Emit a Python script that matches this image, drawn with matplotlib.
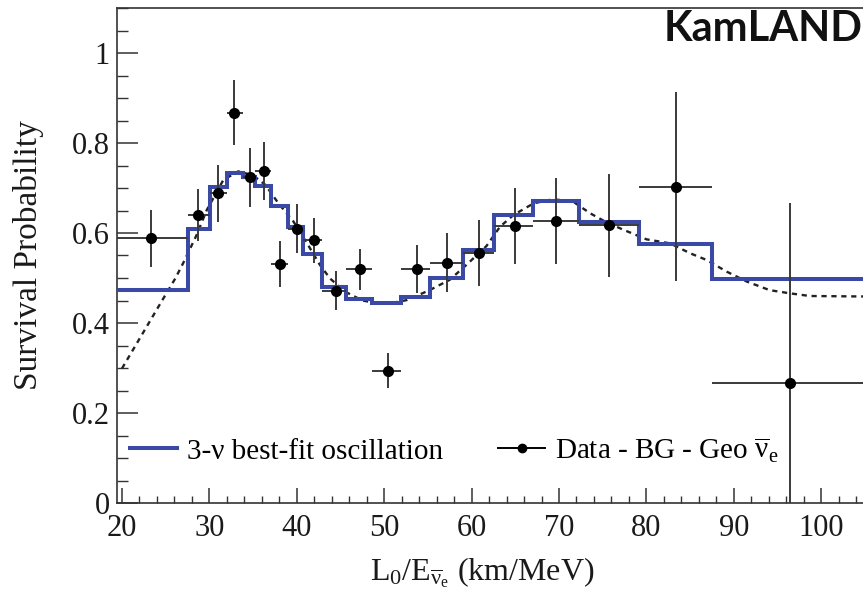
import matplotlib
matplotlib.use('Agg')
import matplotlib.pyplot as plt
from matplotlib.lines import Line2D
from matplotlib.ticker import MultipleLocator, FixedLocator, FuncFormatter

plt.rcParams['font.family'] = ['Liberation Serif', 'DejaVu Serif']
plt.rcParams['mathtext.fontset'] = 'custom'
plt.rcParams['mathtext.rm'] = 'Liberation Serif'
plt.rcParams['mathtext.it'] = 'Liberation Serif:italic'

# ---- data ----
data_x = [23.3, 28.66, 31.0, 32.85, 34.6, 36.2, 38.1, 40.0, 42.0, 44.45,
          47.2, 50.4, 53.7, 57.2, 60.9, 65.0, 69.7, 75.7, 83.4, 96.4]
data_y = [0.588, 0.640, 0.688, 0.867, 0.724, 0.738, 0.531, 0.610, 0.584, 0.472,
          0.519, 0.294, 0.520, 0.534, 0.556, 0.616, 0.627, 0.617, 0.703, 0.267]
data_yerr = [0.063, 0.058, 0.063, 0.072, 0.066, 0.064, 0.051, 0.055, 0.050, 0.043,
             0.046, 0.039, 0.053, 0.065, 0.074, 0.084, 0.095, 0.115, 0.210, 0.400]
bin_edges = [19.43, 27.5, 30.05, 32.05, 33.9, 35.2, 37.1, 39.0, 40.75, 42.85,
             45.6, 48.65, 51.9, 55.25, 59.0, 62.6, 67.05, 72.3, 79.2, 87.55, 112.0]
bestfit = [0.473, 0.609, 0.702, 0.733, 0.725, 0.704, 0.659, 0.614, 0.553, 0.481,
           0.453, 0.444, 0.457, 0.499, 0.562, 0.641, 0.672, 0.625, 0.576, 0.497]
curve_x = [20.0, 24.5, 26.1, 27.0, 28.55, 29.7, 31.6, 33.3, 35.0, 36.4, 37.9, 39.6,
           41.3, 42.65, 43.8, 45.5, 47.5, 49.5, 51.0, 52.6, 55.2, 57.5, 59.4, 61.7,
           63.25, 64.8, 67.1, 69.3, 71.6, 73.55, 75.5, 77.4, 80.0, 82.7, 85.0, 86.9,
           89.2, 91.5, 94.1, 96.4, 98.7, 104.4, 112.0]
curve_y = [0.299, 0.447, 0.499, 0.533, 0.596, 0.651, 0.718, 0.737, 0.728, 0.707, 0.666, 0.626,
           0.573, 0.529, 0.499, 0.470, 0.450, 0.443, 0.445, 0.451, 0.473, 0.496, 0.529, 0.571,
           0.614, 0.640, 0.666, 0.675, 0.670, 0.644, 0.623, 0.607, 0.586, 0.577, 0.555, 0.540,
           0.514, 0.492, 0.473, 0.466, 0.460, 0.459, 0.459]
x_major_ticks = [20, 30, 40, 50, 60, 70, 80, 90, 100]

BLUE = '#3a48a6'
NUBAR = r'$\overline{\mathrm{ν}}_{\mathrm{e}}$'

fig = plt.figure(figsize=(8.63, 6.04), dpi=100)
ax = fig.add_axes([117/863, 1-503/604, 791.6/863, 495/604])
ax.set_xlim(19.43, 110.0)
ax.set_ylim(0, 1.1)

ax.plot(curve_x, curve_y, color='#222222', lw=1.7, ls=(0, (2.2, 2.0)), zorder=2)
ax.stairs(bestfit, bin_edges, baseline=None, color=BLUE, lw=2.9, zorder=3)

xlo = [x - bin_edges[i] for i, x in enumerate(data_x)]
xhi = [bin_edges[i + 1] - x for i, x in enumerate(data_x)]
ax.errorbar(data_x, data_y, yerr=data_yerr, xerr=[xlo, xhi], fmt='o', color='black',
            ecolor='#3a3a3a', elinewidth=1.4, capsize=0, ms=7, zorder=4)

# axes styling
for s in ['left', 'bottom', 'top']:
    ax.spines[s].set_color('#333333')
    ax.spines[s].set_linewidth(1.2)
ax.spines['right'].set_visible(False)

ax.xaxis.set_major_locator(FixedLocator(x_major_ticks))
ax.xaxis.set_minor_locator(MultipleLocator(2))
ax.yaxis.set_major_locator(MultipleLocator(0.2))
ax.yaxis.set_minor_locator(MultipleLocator(0.05))
ax.yaxis.set_major_formatter(FuncFormatter(lambda v, p: '%g' % round(v, 2)))
ax.tick_params(axis='both', which='both', direction='in', colors='#333333',
               labelcolor='#1a1a1a', labelsize=22, top=False, right=False)
ax.tick_params(axis='y', which='major', length=15, width=1.1, pad=5)
ax.tick_params(axis='y', which='minor', length=8, width=1.0)
ax.tick_params(axis='x', which='major', length=11, width=1.1, pad=8)
ax.tick_params(axis='x', which='minor', length=5, width=1.0)

ax.set_ylabel('Survival Probability', fontsize=24, color='#1a1a1a')
ax.yaxis.set_label_coords(-0.0925, 0.5)
ax.set_xlabel(r'L$_0$/E$_{\overline{\mathrm{ν}}_{\mathrm{e}}}$ (km/MeV)', fontsize=23,
              color='#1a1a1a')
ax.xaxis.set_label_coords(0.461, -0.105)

handles = [Line2D([], [], color=BLUE, lw=2.9),
           Line2D([], [], color='black', marker='o', ms=6, lw=1.4)]
labels = ['3-ν best-fit oscillation', 'Data - BG - Geo ' + NUBAR]
ax.legend(handles, labels, ncol=2, loc='center left', bbox_to_anchor=(0.0164, 0.107),
          frameon=False, fontsize=21, handlelength=1.6, handletextpad=0.35,
          columnspacing=1.9, borderpad=0, borderaxespad=0)

fig.text(0.999, 1 - 29/604, 'KamLAND', ha='right', va='center', fontsize=30,
         fontweight='bold', family=['Lato', 'DejaVu Sans'], color='#111111')

fig.savefig('out.png', dpi=100)
